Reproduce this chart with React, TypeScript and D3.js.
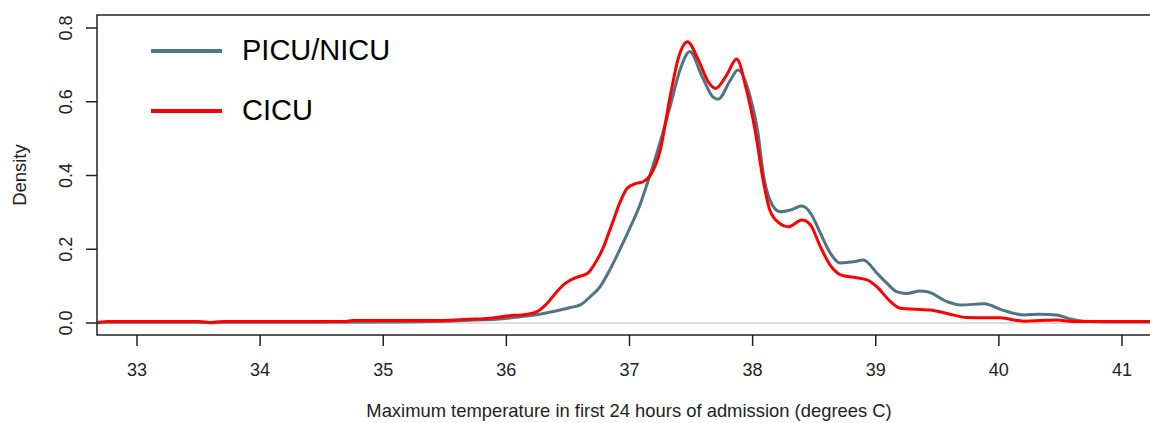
import React from "react";
import * as d3 from "d3";

// Tick values
const xTicks = [33, 34, 35, 36, 37, 38, 39, 40, 41];
const yTicks = [0, 0.2, 0.4, 0.6, 0.8];

// PICU/NICU density curve
const picuTemp = [32.68, 33.0, 34.0, 35.0, 35.5, 35.73, 35.95, 36.11, 36.27, 36.38, 36.52, 36.6, 36.68, 36.76, 36.84, 36.92, 37.0, 37.09, 37.17, 37.27, 37.33, 37.41, 37.49, 37.59, 37.68, 37.72, 37.82, 37.88, 37.98, 38.04, 38.09, 38.14, 38.22, 38.3, 38.4, 38.47, 38.55, 38.63, 38.71, 38.82, 38.9, 39.01, 39.09, 39.17, 39.25, 39.36, 39.42, 39.58, 39.69, 39.88, 40.03, 40.2, 40.33, 40.47, 40.58, 40.69, 40.9, 41.25];
const picuDensity = [0.002, 0.002, 0.002, 0.003, 0.005, 0.008, 0.011, 0.017, 0.024, 0.031, 0.042, 0.049, 0.071, 0.098, 0.144, 0.198, 0.255, 0.325, 0.405, 0.515, 0.587, 0.686, 0.736, 0.668, 0.612, 0.607, 0.659, 0.686, 0.614, 0.523, 0.397, 0.334, 0.302, 0.306, 0.317, 0.298, 0.244, 0.19, 0.163, 0.166, 0.171, 0.135, 0.108, 0.085, 0.08, 0.087, 0.085, 0.058, 0.049, 0.052, 0.035, 0.022, 0.024, 0.022, 0.011, 0.005, 0.003, 0.003];

// CICU density curve
const cicuTemp = [32.68, 32.76, 33.5, 33.6, 33.7, 34.69, 34.75, 35.5, 35.68, 35.87, 36.0, 36.17, 36.25, 36.33, 36.41, 36.48, 36.57, 36.66, 36.72, 36.79, 36.83, 36.87, 36.92, 36.98, 37.05, 37.11, 37.17, 37.25, 37.33, 37.4, 37.47, 37.56, 37.64, 37.7, 37.79, 37.87, 37.95, 38.02, 38.09, 38.14, 38.22, 38.29, 38.4, 38.47, 38.55, 38.63, 38.72, 38.82, 38.93, 39.01, 39.12, 39.2, 39.44, 39.58, 39.74, 40.01, 40.2, 40.47, 40.6, 41.25];
const cicuDensity = [0.0, 0.004, 0.004, 0.001, 0.004, 0.004, 0.007, 0.007, 0.01, 0.013, 0.019, 0.024, 0.031, 0.053, 0.085, 0.108, 0.124, 0.135, 0.162, 0.207, 0.243, 0.279, 0.325, 0.365, 0.378, 0.383, 0.401, 0.469, 0.614, 0.722, 0.763, 0.713, 0.654, 0.636, 0.673, 0.716, 0.632, 0.523, 0.379, 0.306, 0.27, 0.261, 0.279, 0.266, 0.207, 0.157, 0.13, 0.124, 0.117, 0.098, 0.058, 0.04, 0.035, 0.026, 0.015, 0.014, 0.005, 0.008, 0.004, 0.004];

const seriesNames = ["PICU/NICU", "CICU"];
const seriesColors = ["#4E7488", "#FF0000"];

const W = 1150;
const H = 423;
const FONT = "'Liberation Sans', Arial, sans-serif";

export default function App() {
  const box = { left: 97, top: 15, right: 1170, bottom: 335 };
  const x = d3.scaleLinear().domain([33, 41]).range([137, 1122]);
  const y = d3.scaleLinear().domain([0, 0.8]).range([323, 28]);

  const line = d3
    .line<[number, number]>()
    .x((d) => x(d[0]))
    .y((d) => y(d[1]))
    .curve(d3.curveMonotoneX);

  const picuPts = picuTemp.map((t, i) => [t, picuDensity[i]] as [number, number]);
  const cicuPts = cicuTemp.map((t, i) => [t, cicuDensity[i]] as [number, number]);

  return (
    <svg
      width={W}
      height={H}
      style={{ position: "absolute", left: 0, top: 0, display: "block", background: "#fff" }}
      fontFamily={FONT}
    >
      <defs>
        <clipPath id="plotclip">
          <rect x={box.left} y={box.top} width={box.right - box.left} height={box.bottom - box.top} />
        </clipPath>
      </defs>
      <rect x={0} y={0} width={W} height={H} fill="#fff" />

      {/* baseline at 0 */}
      <line x1={box.left} x2={box.right} y1={y(0)} y2={y(0)} stroke="#bebebe" strokeWidth={1.2} />

      <g clipPath="url(#plotclip)">
        <path d={line(picuPts) || ""} fill="none" stroke={seriesColors[0]} strokeWidth={3} strokeLinejoin="round" />
        <path d={line(cicuPts) || ""} fill="none" stroke={seriesColors[1]} strokeWidth={3} strokeLinejoin="round" />
      </g>

      {/* box */}
      <rect
        x={box.left}
        y={box.top}
        width={box.right - box.left}
        height={box.bottom - box.top}
        fill="none"
        stroke="#222"
        strokeWidth={1.5}
      />

      {/* x axis */}
      {xTicks.map((t) => (
        <g key={"x" + t}>
          <line x1={x(t)} x2={x(t)} y1={box.bottom} y2={box.bottom + 11} stroke="#222" strokeWidth={1.5} />
          <text x={x(t)} y={376} textAnchor="middle" fontSize={18} fill="#222">
            {t}
          </text>
        </g>
      ))}

      {/* y axis */}
      {yTicks.map((t) => (
        <g key={"y" + t}>
          <line x1={box.left} x2={box.left - 11} y1={y(t)} y2={y(t)} stroke="#222" strokeWidth={1.5} />
          <text
            transform={`translate(72,${y(t)}) rotate(-90)`}
            textAnchor="middle"
            fontSize={18}
            fill="#222"
          >
            {d3.format(".1f")(t)}
          </text>
        </g>
      ))}

      {/* axis titles */}
      <text x={629} y={417} textAnchor="middle" fontSize={18.4} fill="#222">
        Maximum temperature in first 24 hours of admission (degrees C)
      </text>
      <text transform="translate(26,175) rotate(-90)" textAnchor="middle" fontSize={18.4} fill="#222">
        Density
      </text>

      {/* legend */}
      {seriesNames.map((name, i) => (
        <g key={name}>
          <line
            x1={151}
            x2={222}
            y1={51 + i * 60}
            y2={51 + i * 60}
            stroke={seriesColors[i]}
            strokeWidth={4}
          />
          <text x={242} y={60 + i * 60} fontSize={29} fill="#000">
            {name}
          </text>
        </g>
      ))}
    </svg>
  );
}
